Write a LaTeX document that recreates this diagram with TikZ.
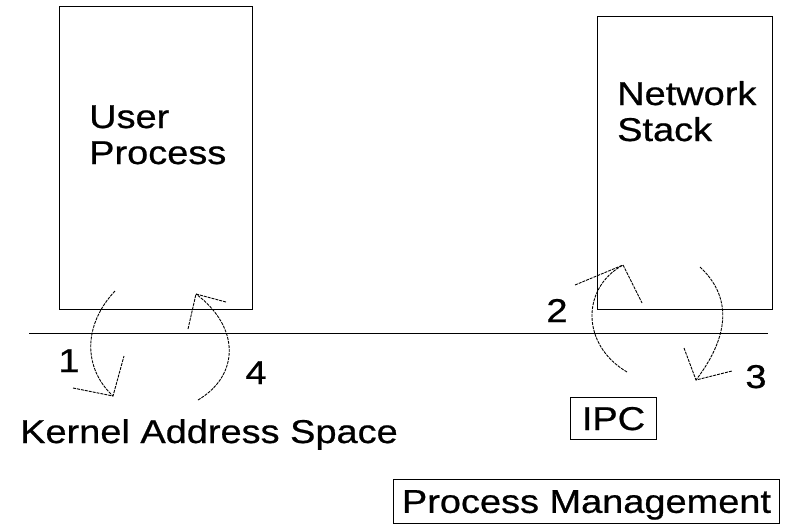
\documentclass[tikz,border=0pt]{standalone}
\usepackage{fontspec}
\setmainfont{Liberation Sans}[FakeBold=0.6]
\newcommand{\wt}[1]{\scalebox{1.15}[1]{#1}}
\begin{document}
\begin{tikzpicture}[x=1pt,y=-1pt,
  box/.style={draw, line width=1pt, inner sep=0pt},
  flow/.style={line width=0.9pt, dash pattern=on 3pt off 1pt},
  lbl/.style={font=\fontsize{33}{36}\selectfont, inner sep=0pt}]
\useasboundingbox (0,0) rectangle (789,525);
% boxes
\node[box, minimum width=193pt, minimum height=303pt, anchor=north west] (user) at (59,6) {};
\node[box, minimum width=175pt, minimum height=293pt, anchor=north west] (net) at (597,16) {};
\node[lbl, anchor=base west] (ut1) at (89,128) {\wt{User}};
\node[lbl, anchor=base west] (ut2) at (89,164) {\wt{Process}};
\node[lbl, anchor=base west] (nt1) at (617,105) {\wt{Network}};
\node[lbl, anchor=base west] (nt2) at (617,141) {\wt{Stack}};
% kernel line
\coordinate (kl) at (29,333);
\coordinate (kr) at (768,333);
\draw[line width=1pt] (kl) -- (kr);
\node[lbl, anchor=base west] (kas) at (20,443) {\wt{Kernel Address Space}};
\node[box, lbl, text depth=0pt, minimum width=86pt, minimum height=42pt, anchor=north west] (ipc) at (570,397) {\wt{IPC}};
\node[box, lbl, text depth=0pt, minimum width=386pt, minimum height=44pt, anchor=north west] (pm) at (393,479) {\wt{Process Management}};
% numbers
\node[lbl, anchor=base] (n1) at (69,372) {\wt{1}};
\node[lbl, anchor=base] (n2) at (557,322) {\wt{2}};
\node[lbl, anchor=base] (n3) at (756,388) {\wt{3}};
\node[lbl, anchor=base] (n4) at (256,384) {\wt{4}};
% arrow 1
\coordinate (a1s) at (115,291); \coordinate (a1t) at (113,396);
\coordinate (a1h1) at (73,388); \coordinate (a1h2) at (124,356);
\draw[flow] (a1s) .. controls (83,325) and (83,368) .. (a1t);
\draw[flow] (a1h1) -- (a1t) -- (a1h2);
% arrow 4
\coordinate (a4s) at (198,400); \coordinate (a4t) at (196,294);
\coordinate (a4h1) at (226,302); \coordinate (a4h2) at (188,329);
\draw[flow] (a4s) .. controls (240,375) and (240,327) .. (a4t);
\draw[flow] (a4h1) -- (a4t) -- (a4h2);
% arrow 2
\coordinate (a2s) at (627,372); \coordinate (a2t) at (623,265);
\coordinate (a2h1) at (575,285); \coordinate (a2h2) at (642,303);
\draw[flow] (a2s) .. controls (581,345) and (581,288) .. (a2t);
\draw[flow] (a2h1) -- (a2t) -- (a2h2);
% arrow 3
\coordinate (a3s) at (700,267); \coordinate (a3t) at (696,380);
\coordinate (a3h1) at (684,348); \coordinate (a3h2) at (732,371);
\draw[flow] (a3s) .. controls (731,296) and (731,334) .. (a3t);
\draw[flow] (a3h1) -- (a3t) -- (a3h2);
\end{tikzpicture}
\end{document}
